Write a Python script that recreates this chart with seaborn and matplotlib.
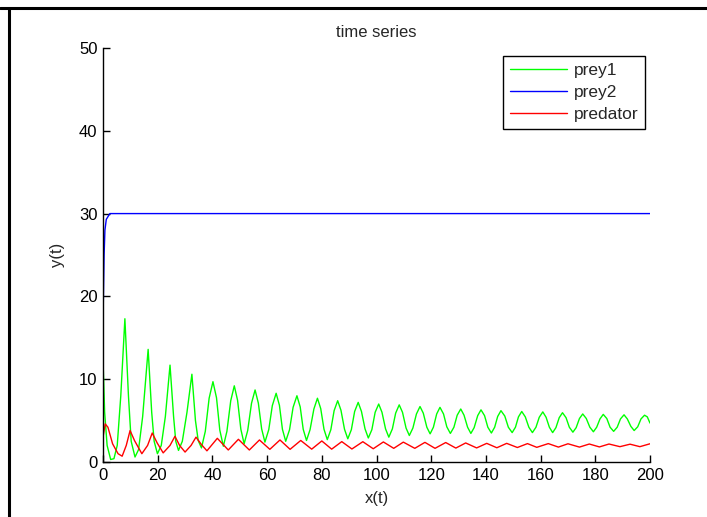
import matplotlib
matplotlib.use("Agg")
import matplotlib.pyplot as plt
import seaborn as sns
import pandas as pd
from matplotlib.lines import Line2D

# ---- data (peaks, troughs and shape points) ----
prey1_t = [0, 0.6, 1.5, 2.8, 4.0, 5.2, 6.5, 8.0, 9.3, 10.3, 11.7, 13.0, 14.5, 16.5,
           17.8, 18.7, 19.9, 21.3, 22.8, 24.5, 25.8, 26.6, 27.6, 29.0, 30.7, 32.5,
           33.8, 34.8, 36.0,
           37.4, 38.8, 40.2, 41.5, 42.7, 44.0, 45.3, 46.7, 48.0, 49.2, 50.4, 51.6,
           52.9, 54.3, 55.6, 56.8, 58.0, 59.2, 60.6, 61.9, 63.3, 64.5, 65.6, 66.8,
           68.2, 69.5, 70.9, 72.1, 73.2, 74.4, 75.7, 77.1, 78.4, 79.6, 80.8, 82.0,
           83.3, 84.5, 85.8, 87.0, 88.3, 89.5, 90.8, 92.0, 93.3, 94.5, 95.8, 97.0,
           98.3, 99.5, 100.8, 102.0, 103.3, 104.5, 105.8, 107.0, 108.3, 109.5,
           110.8, 112.0, 113.3, 114.6, 115.9, 117.1, 118.4, 119.6, 120.8, 122.0,
           123.2, 124.5, 125.7, 127.0, 128.3, 129.5, 130.8, 132.0, 133.3, 134.5,
           135.7, 137.0, 138.2, 139.5, 140.7, 142.0, 143.2, 144.3, 145.5, 146.9,
           148.2, 149.6, 150.8, 151.9, 153.1, 154.4, 155.7, 157.0, 158.3, 159.5,
           160.8, 162.0, 163.2, 164.4, 165.6, 166.8, 168.0, 169.3, 170.5, 171.8,
           173.0, 174.2, 175.4, 176.7, 178.0, 179.3, 180.5, 181.7, 182.9, 184.2,
           185.4, 186.7, 188.0, 189.2, 190.5, 191.7, 193.0, 194.2, 195.5, 196.7,
           198.0, 199.0, 200.0]
prey1_v = [12.3, 6.0, 2.0, 0.3, 0.4, 2.0, 8.0, 17.3, 8.0, 2.5, 0.6, 1.5, 5.5, 13.6,
           6.0, 2.5, 1.0, 2.0, 5.5, 11.7, 5.5, 2.5, 1.4, 2.5, 6.0, 10.6,
           5.0, 2.6, 1.7,
           3.7, 7.7, 9.7, 7.75, 3.85, 1.9, 3.7, 7.4, 9.2, 7.45, 3.95, 2.2,
           3.8, 7.1, 8.7, 7.1, 4.0, 2.4, 3.9, 6.8, 8.3, 6.85, 3.95, 2.5,
           3.9, 6.6, 8.0, 6.65, 3.95, 2.6, 3.9, 6.4, 7.7, 6.45, 3.95, 2.7,
           3.9, 6.2, 7.4, 6.25, 3.95, 2.8, 3.9, 6.1, 7.2, 6.1, 4.0, 2.9,
           3.9, 6.0, 7.0, 6.0, 4.0, 3.0, 4.0, 5.9, 6.9, 6.0,
           4.1, 3.2, 4.1, 5.8, 6.7, 5.9, 4.2, 3.4, 4.2, 5.8,
           6.6, 5.8, 4.25, 3.45, 4.2, 5.65, 6.4, 5.65, 4.2, 3.45,
           4.15, 5.6, 6.3, 5.6, 4.2, 3.5, 4.2, 5.5, 6.2, 5.55,
           4.2, 3.55, 4.2, 5.45, 6.1, 5.45, 4.2, 3.55, 4.2, 5.4,
           6.05, 5.4, 4.2, 3.55, 4.15, 5.35, 5.95, 5.35, 4.2, 3.6,
           4.15, 5.25, 5.8, 5.25, 4.2, 3.65, 4.2, 5.2, 5.75, 5.25,
           4.2, 3.7, 4.2, 5.2, 5.7, 5.2, 4.3, 3.8, 4.25, 5.2,
           5.65, 5.45, 4.7]

prey2_t = [0, 0.2, 0.4, 0.7, 1.2, 2.5, 200]
prey2_v = [17.0, 21.0, 25.0, 28.0, 29.3, 30.0, 30.0]

pred_t = [0, 0.8, 1.8, 3.5, 5.5, 7.0, 8.5, 9.9, 11.5, 14.2, 16.3, 18.0, 19.8, 22.0,
          24.5, 26.3, 28.0, 30.0, 32.2, 34.0, 36.0, 38.0, 41.8, 45.8, 49.5, 53.5,
          57.2, 61.0, 64.7, 68.4, 72.3, 76.3, 80.0, 83.6, 87.3, 91.0, 95.0, 98.8,
          102.5, 106.3, 109.8, 114.0, 117.7, 121.4, 125.3, 129.0, 132.6, 136.6,
          140.3, 144.0, 147.6, 151.5, 155.2, 158.6, 162.8, 166.5, 170.0, 174.2,
          177.8, 181.5, 185.0, 189.0, 192.7, 196.3, 200.0]
pred_v = [3.0, 4.6, 4.2, 2.2, 1.0, 0.7, 2.0, 3.8, 2.6, 1.0, 2.0, 3.5, 2.3, 1.1,
          2.0, 3.1, 2.0, 1.2, 2.0, 3.0, 2.1, 1.35, 2.86, 1.45, 2.74, 1.45,
          2.66, 1.53, 2.66, 1.53, 2.6, 1.55, 2.54, 1.55, 2.46, 1.57, 2.45, 1.6,
          2.42, 1.65, 2.4, 1.65, 2.37, 1.65, 2.35, 1.68, 2.3, 1.7,
          2.25, 1.72, 2.25, 1.75, 2.22, 1.77, 2.22, 1.8, 2.2, 1.8,
          2.17, 1.82, 2.17, 1.85, 2.15, 1.85, 2.2]

series_names = ["prey1", "prey2", "predator"]
series_colors = {"prey1": "#00ff00", "prey2": "#0000ff", "predator": "#ff0000"}
x_ticks = list(range(0, 201, 20))
y_ticks = list(range(0, 51, 10))

df = pd.concat([
    pd.DataFrame({"t": prey1_t, "v": prey1_v, "series": "prey1"}),
    pd.DataFrame({"t": prey2_t, "v": prey2_v, "series": "prey2"}),
    pd.DataFrame({"t": pred_t, "v": pred_v, "series": "predator"}),
], ignore_index=True)

sns.set_theme(style="ticks")
plt.rcParams["font.family"] = ["Liberation Sans", "DejaVu Sans"]

fig = plt.figure(figsize=(7.07, 5.17), dpi=100)
ax = fig.add_axes([0.1457, 0.1064, 0.7737, 0.8008])

sns.lineplot(data=df, x="t", y="v", hue="series", hue_order=series_names,
             palette=series_colors, sort=False, estimator=None, linewidth=1.0,
             ax=ax)

ax.set_xlim(0, 200)
ax.set_ylim(0, 50)
ax.set_xticks(x_ticks)
ax.set_yticks(y_ticks)
ax.tick_params(direction="in", length=5, width=1, labelsize=12, colors="black",
               pad=4)
for s in ["top", "right"]:
    ax.spines[s].set_visible(False)
for s in ["left", "bottom"]:
    ax.spines[s].set_color("black")
    ax.spines[s].set_linewidth(1)
ax.set_facecolor("white")

ax.set_title("time series", fontsize=12, pad=8)
ax.set_xlabel("x(t)", fontsize=12, labelpad=6)
ax.set_ylabel("y(t)", fontsize=12, labelpad=10)

leg = ax.legend(loc="upper right", bbox_to_anchor=(0.991, 0.98), fontsize=12.5,
                frameon=True, fancybox=False, framealpha=1, edgecolor="black",
                borderpad=0.38, handlelength=3.3, handletextpad=0.4,
                labelspacing=0.4, borderaxespad=0)
leg.get_frame().set_linewidth(1)

# outer frame lines (top and left) like the reference
fig.add_artist(Line2D([0, 1], [1 - 8 / 517, 1 - 8 / 517], transform=fig.transFigure,
                      color="black", linewidth=2.2))
fig.add_artist(Line2D([9 / 707, 9 / 707], [0, 1 - 8 / 517], transform=fig.transFigure,
                      color="black", linewidth=2.2))

fig.savefig("out.png", dpi=100, facecolor="white")
